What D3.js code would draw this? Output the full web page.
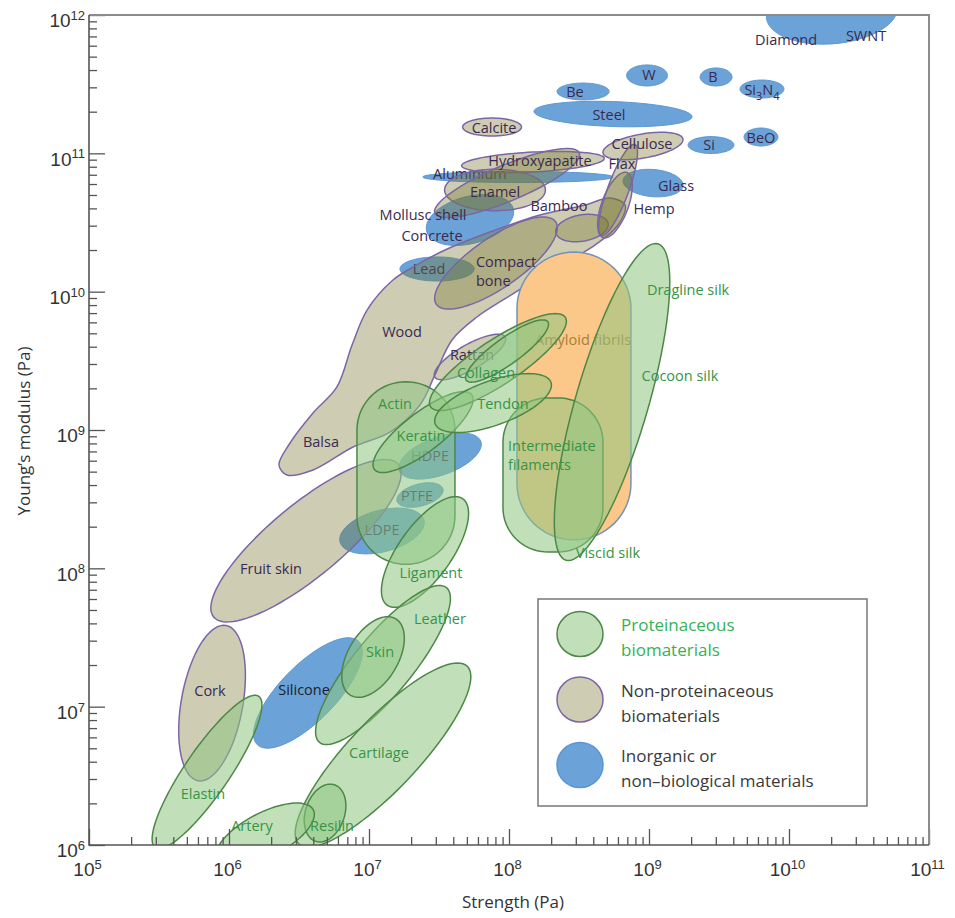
<!DOCTYPE html>
<html>
<head>
<meta charset="utf-8">
<script src="https://cdn.jsdelivr.net/npm/d3@7"></script>
<style>
  body { margin: 0; background: #fff; }
  svg { font-family: "Open Sans", Lato, sans-serif; }
</style>
</head>
<body>
<div id="chart"></div>
<script>
// Ashby-style map: Young's modulus vs strength, log-log.
// Every region is given in log10(Pa): centre strength, centre modulus,
// semi-axes in decades and tilt (degrees, in log space).

// non-proteinaceous biomaterials
var plantEllipses = [
  ["Fruit skin",     6.55,  8.2,    0.86, 0.26,  40],
  ["Cork",           5.879, 7.026,  0.57, 0.22,  80],
  ["Rattan",         7.721, 9.528,  0.29, 0.09,  30],
  ["Compact bone",   7.907, 10.207, 0.52, 0.18,  35],
  ["Bamboo",         8.521, 10.46,  0.19, 0.095, 10],
  ["Hemp",           8.757, 10.626, 0.25, 0.095, 70],
  ["Flax",           8.779, 10.735, 0.35, 0.075, 70],
  ["Cellulose",      8.957, 11.053, 0.29, 0.087, 10],
  ["Calcite",        7.879, 11.19,  0.21, 0.065, 0],
  ["Hydroxyapatite", 8.171, 10.937, 0.51, 0.072, 3],
  ["Enamel",         7.9,   10.735, 0.36, 0.15,  0],
  ["Mollusc shell",  7.986, 10.785, 0.56, 0.13,  23]
];

// wood / balsa envelope, [log strength, log modulus]
var woodOutline = [
  [6.414, 8.675], [6.6, 8.711], [6.886, 8.877], [7.15, 8.985], [7.364, 9.181],
  [7.471, 9.398], [7.593, 9.651], [7.771, 9.817], [7.957, 9.94], [8.329, 10.171],
  [8.614, 10.337], [8.779, 10.482], [8.829, 10.626], [8.721, 10.677], [8.543, 10.626],
  [8.221, 10.554], [7.864, 10.431], [7.543, 10.301], [7.314, 10.178], [7.171, 10.084],
  [6.986, 9.867], [6.879, 9.614], [6.771, 9.311], [6.6, 9.123], [6.436, 8.906],
  [6.357, 8.747]
];

// inorganic or non-biological materials
var inorganicEllipses = [
  ["Concrete",  7.721, 10.518, 0.32,  0.17,  15],
  ["Lead",      7.486, 10.164, 0.265, 0.087, 0],
  ["Aluminium", 8.064, 10.829, 0.68,  0.04,  0],
  ["Glass",     9.029, 10.785, 0.215, 0.098, -5],
  ["Steel",     8.743, 11.284, 0.565, 0.09,  -2],
  ["Be",        8.529, 11.447, 0.186, 0.061, 0],
  ["W",         8.986, 11.563, 0.146, 0.076, 0],
  ["B",         9.479, 11.552, 0.114, 0.065, 0],
  ["Si3N4",     9.807, 11.465, 0.157, 0.065, 0],
  ["Si",        9.443, 11.06,  0.164, 0.061, 0],
  ["BeO",       9.8,   11.118, 0.121, 0.065, 0],
  ["SWNT",      10.307, 12.022, 0.47, 0.23,  5],
  ["Silicone",  6.564, 7.099,  0.52,  0.2,   46],
  ["LDPE",      7.093, 8.27,   0.31,  0.15,  15],
  ["PTFE",      7.364, 8.53,   0.17,  0.08,  15],
  ["HDPE",      7.507, 8.812,  0.31,  0.137, 20]
];

// proteinaceous biomaterials
var proteinEllipses = [
  ["Keratin",         7.386, 8.985, 0.44, 0.14,  38],
  ["Collagen",        7.921, 9.491, 0.58, 0.16,  34],
  ["Collagen fibril", 7.986, 9.571, 0.36, 0.095, 36],
  ["Tendon",          7.886, 9.195, 0.44, 0.16,  20],
  ["Silk",            8.736, 9.202, 1.19, 0.26,  74],
  ["Ligament",        7.4,   8.118, 0.47, 0.19,  55],
  ["Leather",         7.1,   7.301, 0.72, 0.21,  51],
  ["Skin",            7.029, 7.359, 0.32, 0.18,  60],
  ["Cartilage",       7.1,   6.65,  0.88, 0.25,  47],
  ["Resilin",         6.686, 6.231, 0.215, 0.14, 72],
  ["Artery",          6.257, 6.072, 0.39, 0.16,  28],
  ["Elastin",         5.843, 6.528, 0.66, 0.16,  56]
];

// rounded boxes: name, group, log S, log E, half width, half height, corner radius (decades)
var stadiums = [
  ["Amyloid fibrils",        "amyloid", 8.464, 9.246, 0.407, 1.04,  0.407],
  ["Actin",                  "protein", 7.264, 8.689, 0.35,  0.66,  0.35],
  ["Intermediate filaments", "protein", 8.314, 8.675, 0.357, 0.557, 0.32]
];

// labels: text, log S, log E, colour key, anchor, layer
var labels = [
  ["Diamond", 9.979, 11.819, "dark", "middle", "inorganic"],
  ["SWNT", 10.55, 11.848, "dark", "middle", "inorganic"],
  ["W", 9.0, 11.566, "dark", "middle", "inorganic"],
  ["B", 9.457, 11.552, "dark", "middle", "inorganic"],
  ["Si3N4", 9.807, 11.458, "dark", "middle", "inorganic"],
  ["Be", 8.471, 11.443, "dark", "middle", "inorganic"],
  ["Steel", 8.714, 11.277, "dark", "middle", "inorganic"],
  ["Si", 9.429, 11.06, "dark", "middle", "inorganic"],
  ["BeO", 9.8, 11.111, "dark", "middle", "inorganic"],
  ["Glass", 9.193, 10.764, "dark", "middle", "inorganic"],
  ["Aluminium", 7.721, 10.851, "dark", "middle", "inorganic"],
  ["Concrete", 7.45, 10.4, "dark", "middle", "inorganic"],
  ["Lead", 7.429, 10.164, "dark", "middle", "inorganic"],
  ["Silicone", 6.536, 7.12, "black", "middle", "inorganic"],
  ["HDPE", 7.436, 8.81, "dark", "middle", "inorganic"],
  ["PTFE", 7.343, 8.523, "dark", "middle", "inorganic"],
  ["LDPE", 7.093, 8.277, "dark", "middle", "inorganic"],
  ["Calcite", 7.893, 11.183, "dark", "middle", "plant"],
  ["Cellulose", 8.95, 11.07, "dark", "middle", "plant"],
  ["Hydroxyapatite", 8.221, 10.947, "dark", "middle", "plant"],
  ["Flax", 8.807, 10.92, "dark", "middle", "plant"],
  ["Enamel", 7.9, 10.72, "dark", "middle", "plant"],
  ["Bamboo", 8.357, 10.619, "dark", "middle", "plant"],
  ["Hemp", 9.036, 10.598, "dark", "middle", "plant"],
  ["Mollusc shell", 7.386, 10.552, "dark", "middle", "plant"],
  ["Compact\nbone", 7.764, 10.214, "dark", "start", "plant"],
  ["Wood", 7.236, 9.708, "dark", "middle", "plant"],
  ["Rattan", 7.736, 9.542, "dark", "middle", "plant"],
  ["Balsa", 6.657, 8.913, "dark", "middle", "plant"],
  ["Fruit skin", 6.3, 7.995, "dark", "middle", "plant"],
  ["Cork", 5.864, 7.113, "dark", "middle", "plant"],
  ["Amyloid fibrils", 8.529, 9.651, "amyloid", "middle", "amyloid"],
  ["Collagen", 7.836, 9.41, "protein", "middle", "protein"],
  ["Tendon", 7.957, 9.188, "protein", "middle", "protein"],
  ["Actin", 7.186, 9.188, "protein", "middle", "protein"],
  ["Keratin", 7.371, 8.96, "protein", "middle", "protein"],
  ["Ligament", 7.443, 7.966, "protein", "middle", "protein"],
  ["Leather", 7.507, 7.634, "protein", "middle", "protein"],
  ["Skin", 7.079, 7.395, "protein", "middle", "protein"],
  ["Cartilage", 7.071, 6.665, "protein", "middle", "protein"],
  ["Elastin", 5.814, 6.369, "protein", "middle", "protein"],
  ["Artery", 6.164, 6.137, "protein", "middle", "protein"],
  ["Resilin", 6.736, 6.137, "protein", "middle", "protein"],
  ["Dragline silk", 9.279, 10.012, "protein", "middle", "protein"],
  ["Cocoon silk", 9.221, 9.39, "protein", "middle", "protein"],
  ["Intermediate\nfilaments", 7.993, 8.884, "protein", "start", "protein"],
  ["Viscid silk", 8.707, 8.111, "protein", "middle", "protein"]
];

var legendItems = [
  ["protein", ["Proteinaceous", "biomaterials"]],
  ["plant", ["Non-proteinaceous", "biomaterials"]],
  ["inorganic", ["Inorganic or", "non\u2013biological materials"]]
];

// drawing order and look of each group (fill seen over white = legend colour)
var layers = ["inorganic", "plant", "amyloid", "protein"];
var fills = {plant: "#7b7832", inorganic: "#6ba3d8", amyloid: "#fcc88a", protein: "#8ec782"};
var fillOpacity = {plant: 0.37, inorganic: 1, amyloid: 1, protein: 0.55};
var legendFills = {plant: "#cecdb3", inorganic: "#6ba3d8", protein: "#c1e0ba"};
var strokes = {plant: "#7a66a6", inorganic: "#5b97d2", amyloid: "#7592b5", protein: "#4d8747"};
var textColors = {dark: "#3a2950", black: "#1c1c2c", amyloid: "#a87f34", protein: "#379446"};

var width = 955, height = 918;
var margin = {left: 89, right: 26, top: 15, bottom: 73};

var svg = d3.select("#chart").append("svg")
    .attr("width", width)
    .attr("height", height);

var x = d3.scaleLog().domain([1e5, 1e11]).range([margin.left, width - margin.right]);
var y = d3.scaleLog().domain([1e6, 1e12]).range([height - margin.bottom, margin.top]);

svg.append("clipPath").attr("id", "plot")
  .append("rect")
    .attr("x", x.range()[0]).attr("y", y.range()[1])
    .attr("width", x.range()[1] - x.range()[0])
    .attr("height", y.range()[0] - y.range()[1]);

// shape builders, all in log space then through the scales
var ellipsePts = function(cx, cy, a, b, tilt) {
  var th = tilt * Math.PI / 180;
  return d3.range(96).map(function(i) {
    var t = i / 96 * 2 * Math.PI;
    var u = a * Math.cos(t), v = b * Math.sin(t);
    return [Math.pow(10, cx + u * Math.cos(th) - v * Math.sin(th)),
            Math.pow(10, cy + u * Math.sin(th) + v * Math.cos(th))];
  });
};

var stadiumPts = function(cx, cy, hw, hh, r) {
  var pts = [];
  var corners = [[hw - r, hh - r, 0], [-(hw - r), hh - r, 90], [-(hw - r), -(hh - r), 180], [hw - r, -(hh - r), 270]];
  corners.forEach(function(c) {
    for (var k = 0; k <= 18; k++) {
      var ang = (c[2] + k * 5) * Math.PI / 180;
      pts.push([Math.pow(10, cx + c[0] + r * Math.cos(ang)), Math.pow(10, cy + c[1] + r * Math.sin(ang))]);
    }
  });
  return pts;
};

var lineClosed = d3.line().x(function(p) { return x(p[0]); }).y(function(p) { return y(p[1]); })
    .curve(d3.curveLinearClosed);
var lineSmooth = d3.line().x(function(p) { return x(p[0]); }).y(function(p) { return y(p[1]); })
    .curve(d3.curveCatmullRomClosed.alpha(0.5));

var shapes = [];
shapes.push({group: "plant", d: lineSmooth(woodOutline.map(function(p) { return [Math.pow(10, p[0]), Math.pow(10, p[1])]; }))});
plantEllipses.forEach(function(e) {
  shapes.push({group: "plant", d: lineClosed(ellipsePts(e[1], e[2], e[3], e[4], e[5]))});
});
inorganicEllipses.forEach(function(e) {
  shapes.push({group: "inorganic", d: lineClosed(ellipsePts(e[1], e[2], e[3], e[4], e[5]))});
});
stadiums.forEach(function(s) {
  shapes.push({group: s[1], d: lineClosed(stadiumPts(s[2], s[3], s[4], s[5], s[6]))});
});
proteinEllipses.forEach(function(e) {
  shapes.push({group: "protein", d: lineClosed(ellipsePts(e[1], e[2], e[3], e[4], e[5]))});
});

var plotArea = svg.append("g").attr("clip-path", "url(#plot)");

var drawLabel = function(g, l) {
  var t = g.append("text")
      .attr("x", x(Math.pow(10, l[1])))
      .attr("y", y(Math.pow(10, l[2])))
      .attr("text-anchor", l[4])
      .attr("fill", textColors[l[3]]);
  if (l[0] === "Si3N4") {
    t.attr("dy", "0.35em");
    t.append("tspan").text("Si");
    t.append("tspan").attr("dy", 5).attr("font-size", 11).text("3");
    t.append("tspan").attr("dy", -5).text("N");
    t.append("tspan").attr("dy", 5).attr("font-size", 11).text("4");
    return;
  }
  l[0].split("\n").forEach(function(s, i) {
    t.append("tspan")
      .attr("x", x(Math.pow(10, l[1])))
      .attr("dy", i === 0 ? "0.35em" : 19)
      .text(s);
  });
};

// each group: its regions, then its names, so later groups tint what is under them
layers.forEach(function(grp) {
  plotArea.append("g").selectAll("path")
      .data(shapes.filter(function(s) { return s.group === grp; }))
    .enter().append("path")
      .attr("d", function(d) { return d.d; })
      .attr("fill", fills[grp])
      .attr("fill-opacity", fillOpacity[grp])
      .attr("stroke", strokes[grp])
      .attr("stroke-width", grp === "inorganic" ? 1 : 1.5);
  var lg = plotArea.append("g").attr("font-size", 14.5);
  labels.filter(function(l) { return l[5] === grp; }).forEach(function(l) { drawLabel(lg, l); });
});

// axes
var decadesX = d3.range(5, 12), decadesY = d3.range(6, 13);
var minor = function(decs) {
  var out = [];
  decs.slice(0, -1).forEach(function(d) {
    for (var k = 2; k <= 9; k++) out.push(k * Math.pow(10, d));
  });
  return out;
};

var supLabel = function(sel) {
  sel.each(function(v) {
    var t = d3.select(this);
    var e = Math.round(Math.log10(v));
    t.text(null);
    t.append("tspan").text("10");
    t.append("tspan").attr("dy", "-0.55em").attr("font-size", 13).text(e);
  });
};

var xMajor = svg.append("g")
    .attr("transform", "translate(0," + y.range()[0] + ")")
    .call(d3.axisBottom(x).tickValues(decadesX.map(function(d) { return Math.pow(10, d); }))
      .tickSize(-16).tickPadding(18).tickFormat(""));
xMajor.selectAll(".tick text").attr("font-size", 19).attr("fill", "#333").attr("dx", -2).call(supLabel);

svg.append("g")
    .attr("transform", "translate(0," + y.range()[0] + ")")
    .call(d3.axisBottom(x).tickValues(minor(decadesX)).tickSize(-8).tickFormat(""));

var yMajor = svg.append("g")
    .attr("transform", "translate(" + x.range()[0] + ",0)")
    .call(d3.axisLeft(y).tickValues(decadesY.map(function(d) { return Math.pow(10, d); }))
      .tickSize(-16).tickPadding(4).tickFormat(""));
yMajor.selectAll(".tick text").attr("font-size", 19).attr("fill", "#333").attr("dy", "0.62em").call(supLabel);

svg.append("g")
    .attr("transform", "translate(" + x.range()[0] + ",0)")
    .call(d3.axisLeft(y).tickValues(minor(decadesY)).tickSize(-8).tickFormat(""));

svg.selectAll(".domain").remove();
svg.selectAll(".tick line").attr("stroke", "#555").attr("stroke-width", 1.3);

// frame
svg.append("path")
    .attr("d", "M" + x.range()[0] + "," + y.range()[1] + "H" + x.range()[1] + "V" + y.range()[0])
    .attr("fill", "none").attr("stroke", "#8c8c8c").attr("stroke-width", 2);
svg.append("path")
    .attr("d", "M" + x.range()[0] + "," + y.range()[1] + "V" + y.range()[0] + "H" + x.range()[1])
    .attr("fill", "none").attr("stroke", "#555").attr("stroke-width", 1.6);

// axis titles
svg.append("text")
    .attr("x", 513).attr("y", 908)
    .attr("text-anchor", "middle").attr("font-size", 17).attr("fill", "#333")
    .text("Strength (Pa)");
svg.append("text")
    .attr("transform", "translate(30,431) rotate(-90)")
    .attr("text-anchor", "middle").attr("font-size", 17).attr("fill", "#333")
    .text("Young\u2019s modulus (Pa)");

// legend
var legend = svg.append("g").attr("transform", "translate(538,599)");
legend.append("rect")
    .attr("width", 329).attr("height", 207)
    .attr("fill", "#fff").attr("stroke", "#777").attr("stroke-width", 1.5);
legendItems.forEach(function(item, i) {
  var g = legend.append("g").attr("transform", "translate(0," + (35 + i * 65.5) + ")");
  g.append("ellipse")
      .attr("cx", 42).attr("cy", 0).attr("rx", 23).attr("ry", 22.5)
      .attr("fill", legendFills[item[0]]).attr("stroke", strokes[item[0]]).attr("stroke-width", 1.5);
  g.append("text")
      .attr("x", 83).attr("y", -3)
      .attr("font-size", 17)
      .attr("fill", item[0] === "protein" ? "#35b252" : "#3a3a3a")
      .selectAll("tspan").data(item[1]).enter().append("tspan")
      .attr("x", 83).attr("dy", function(d, j) { return j === 0 ? 0 : 25; })
      .text(function(d) { return d; });
});
</script>
</body>
</html>
